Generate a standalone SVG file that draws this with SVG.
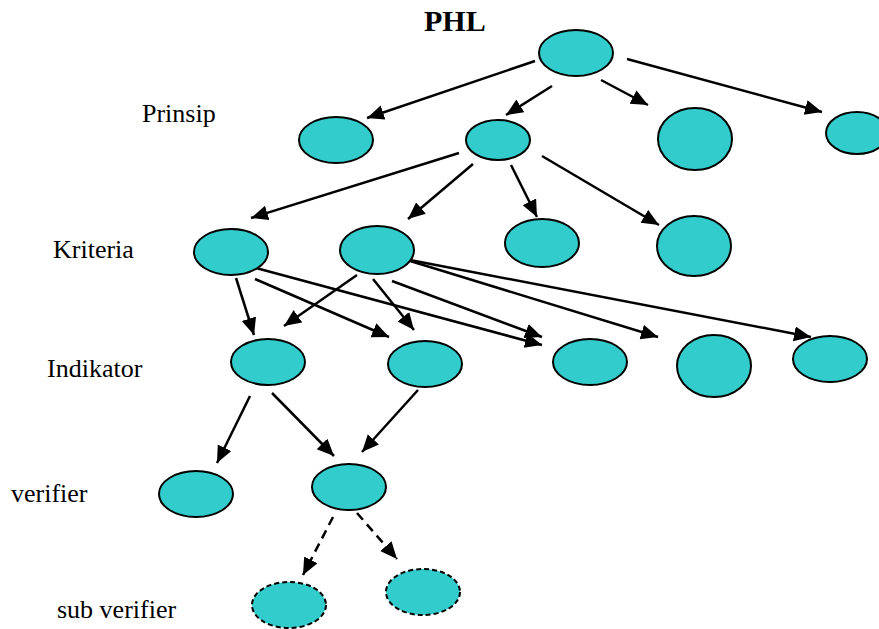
<svg xmlns="http://www.w3.org/2000/svg" width="879" height="629" viewBox="0 0 879 629">
<defs>
<marker id="ah" markerUnits="userSpaceOnUse" markerWidth="19" markerHeight="16" refX="17" refY="7.5" orient="auto">
<path d="M0,0 L17,7.5 L0,15 z" fill="#000"/>
</marker>
<style>
.n{fill:#33CCCC;stroke:#000;stroke-width:2}
.d{stroke-dasharray:5,3}
.c line{stroke:#000;stroke-width:2.5;marker-end:url(#ah)}
.c line.dl{stroke-dasharray:9,6}
</style>
</defs>
<rect width="879" height="629" fill="#fff"/>
<text x="424" y="31" font-family="Liberation Serif, DejaVu Serif, serif" font-size="30" font-weight="bold">PHL</text>
<g id="labels" font-family="Liberation Serif, DejaVu Serif, serif" font-size="26">
<text x="142" y="122">Prinsip</text>
<text x="53" y="258">Kriteria</text>
<text x="47" y="377">Indikator</text>
<text x="11" y="502">verifier</text>
<text x="57" y="618">sub verifier</text>
</g>
<g id="connectors" class="c">
<line x1="535" y1="61" x2="367" y2="118"/>
<line x1="552" y1="86" x2="506" y2="115"/>
<line x1="601" y1="80" x2="648" y2="105"/>
<line x1="627" y1="59" x2="822" y2="112"/>
<line x1="459" y1="153" x2="251" y2="218"/>
<line x1="473" y1="164" x2="408" y2="219"/>
<line x1="511" y1="165" x2="537" y2="217"/>
<line x1="542" y1="156" x2="659" y2="225"/>
<line x1="236" y1="278" x2="254" y2="335"/>
<line x1="357" y1="275" x2="284" y2="326"/>
<line x1="255" y1="279" x2="389" y2="337"/>
<line x1="373" y1="279" x2="414" y2="330"/>
<line x1="256" y1="268" x2="542" y2="345"/>
<line x1="392" y1="281" x2="542" y2="337"/>
<line x1="407" y1="260" x2="658" y2="337"/>
<line x1="410" y1="260" x2="811" y2="337"/>
<line x1="250" y1="396" x2="217" y2="463"/>
<line x1="272" y1="393" x2="334" y2="456"/>
<line x1="418" y1="390" x2="362" y2="452"/>
<line class="dl" x1="333" y1="517" x2="303" y2="575"/>
<line class="dl" x1="357" y1="513" x2="397" y2="559"/>
</g>
<g id="root"><ellipse class="n" cx="576" cy="53" rx="37" ry="23"/></g>
<g id="p1"><ellipse class="n" cx="336" cy="140" rx="37" ry="23"/></g>
<g id="p2"><ellipse class="n" cx="498" cy="140" rx="32" ry="20"/></g>
<g id="p3"><ellipse class="n" cx="695" cy="139" rx="37" ry="31"/></g>
<g id="p4"><ellipse class="n" cx="857" cy="133" rx="31" ry="21"/></g>
<g id="k1"><ellipse class="n" cx="231" cy="252" rx="37" ry="23"/></g>
<g id="k2"><ellipse class="n" cx="377" cy="250" rx="37" ry="24"/></g>
<g id="k3"><ellipse class="n" cx="542" cy="243" rx="37" ry="24"/></g>
<g id="k4"><ellipse class="n" cx="694" cy="246" rx="37" ry="30"/></g>
<g id="i1"><ellipse class="n" cx="268" cy="362" rx="37" ry="23"/></g>
<g id="i2"><ellipse class="n" cx="425" cy="364" rx="37" ry="23"/></g>
<g id="i3"><ellipse class="n" cx="590" cy="362" rx="37" ry="23"/></g>
<g id="i4"><ellipse class="n" cx="714" cy="366" rx="37" ry="31"/></g>
<g id="i5"><ellipse class="n" cx="830" cy="359" rx="37" ry="23"/></g>
<g id="v1"><ellipse class="n" cx="196" cy="494" rx="37" ry="23"/></g>
<g id="v2"><ellipse class="n" cx="349" cy="487" rx="37" ry="23"/></g>
<g id="s1"><ellipse class="n d" cx="289" cy="605" rx="37" ry="23"/></g>
<g id="s2"><ellipse class="n d" cx="423" cy="592" rx="37" ry="23"/></g>
</svg>
